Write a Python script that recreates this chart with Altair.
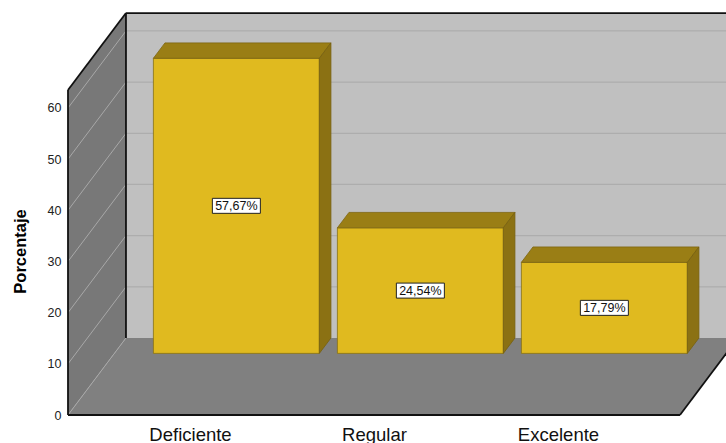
import json
import altair as alt
import pandas as pd

# ---------------- data ----------------
categories = ["Deficiente", "Regular", "Excelente"]
values = [57.67, 24.54, 17.79]
y_ticks = [0, 10, 20, 30, 40, 50, 60]
value_labels = [f"{v:.2f}%".replace(".", ",") for v in values]

# ---------------- 3D geometry (in data units) ----------------
DX = 0.315        # depth offset along x (category units)
DY = 15.05        # depth offset along y (percent units)
BAR_PLANE = 0.8   # depth fraction of the bar front faces
BAR_DEPTH = 0.2   # depth fraction occupied by bars
HALF = 0.451      # half bar width
WALL_TOP = 63.5   # top of the walls (percent)
X_LEFT = 1 - 1.663
X_RIGHT = 1 + 1.663
XMIN, XMAX = X_LEFT, X_LEFT + 658 / 184
YMIN, YMAX = 0, 81.1

FONT = "Liberation Sans"
XS = alt.Scale(domain=[XMIN, XMAX], nice=False, zero=False)
YS = alt.Scale(domain=[YMIN, YMAX], nice=False, zero=False)

XA = alt.Axis(values=[0, 1, 2],
              labelExpr=json.dumps(categories) + "[datum.value]",
              title=None, domain=False, ticks=False, grid=False,
              labelFont=FONT, labelFontSize=18.5, labelColor="#111111",
              labelPadding=10, labelFlush=False, labelOverlap=False)
YA = alt.Axis(values=y_ticks, title="Porcentaje", domain=False, ticks=False,
              grid=False, labelFont=FONT, labelFontSize=12.5,
              labelColor="#222222", labelPadding=7, labelFlush=False,
              titleFont=FONT, titleFontSize=16.5, titleFontWeight="bold",
              titleColor="#000000", titleX=-43, titleY=251,
              titleAngle=270, titleAlign="center", titleBaseline="alphabetic")


def X(f, **kw):
    return alt.X(f, type="quantitative", scale=XS, axis=XA, **kw)


def Y(f, **kw):
    return alt.Y(f, type="quantitative", scale=YS, axis=YA, **kw)


# back wall
back = pd.DataFrame({"x": [X_LEFT + DX], "x2": [X_RIGHT + DX], "y": [DY], "y2": [WALL_TOP + DY]})
back_l = alt.Chart(back).mark_rect(color="#c0c0c0").encode(
    x=X("x"), x2="x2", y=Y("y"), y2="y2")

# left wall (vertical edges)
lw = pd.DataFrame({"x": [X_LEFT, X_LEFT + DX], "y": [WALL_TOP, WALL_TOP + DY], "y2": [0, DY]})
lw_l = alt.Chart(lw).mark_area(color="#787878", opacity=1).encode(
    x=X("x"), y=Y("y"), y2="y2")

# floor (horizontal edges)
fl = pd.DataFrame({"y": [0, DY], "x": [X_LEFT, X_LEFT + DX], "x2": [X_RIGHT, X_RIGHT + DX]})
fl_l = alt.Chart(fl).mark_area(color="#808080", orient="horizontal", opacity=1).encode(
    y=Y("y"), x=X("x"), x2="x2")

# back-wall gridlines
bg = pd.DataFrame({"v": y_ticks[1:]})
bg["y"] = bg["v"] + DY
bg["x"] = X_LEFT + DX
bg["x2"] = X_RIGHT + DX
bg_l = alt.Chart(bg).mark_rule(color="#adadad", strokeWidth=1.2).encode(
    x=X("x"), x2="x2", y=Y("y"))

# left-wall diagonal gridlines
dg = pd.DataFrame({"y": y_ticks})
dg["y2"] = dg["y"] + DY
dg["x"] = X_LEFT
dg["x2"] = X_LEFT + DX
dg_l = alt.Chart(dg).mark_rule(color="#a8a8a8", strokeWidth=1).encode(
    x=X("x"), x2="x2", y=Y("y"), y2="y2")

# black edges
edges = pd.DataFrame({
    "x": [X_LEFT, X_LEFT, X_LEFT + DX, X_LEFT + DX, X_LEFT, X_RIGHT],
    "x2": [X_LEFT, X_LEFT + DX, X_LEFT + DX, X_RIGHT + DX, X_RIGHT, X_RIGHT + DX],
    "y": [0, WALL_TOP, DY, WALL_TOP + DY, 0, 0],
    "y2": [WALL_TOP, WALL_TOP + DY, WALL_TOP + DY, WALL_TOP + DY, 0, DY],
})
ed_l = alt.Chart(edges).mark_rule(color="#111111", strokeWidth=1.8).encode(
    x=X("x"), x2="x2", y=Y("y"), y2="y2")

# bars
base_y = BAR_PLANE * DY
off_x = BAR_PLANE * DX
bd_x = BAR_DEPTH * DX
bd_y = BAR_DEPTH * DY
bars = pd.DataFrame({"cat": categories, "val": values, "lab": value_labels})
bars["i"] = range(len(categories))
bars["xl"] = bars["i"] + off_x - HALF
bars["xr"] = bars["i"] + off_x + HALF
bars["xc"] = bars["i"] + off_x
bars["yb"] = base_y
bars["yt"] = base_y + bars["val"]
bars["ym"] = base_y + bars["val"] / 2

front_l = alt.Chart(bars).mark_rect(color="#e0ba1f", stroke="#857014", strokeWidth=0.8).encode(
    x=X("xl"), x2="xr", y=Y("yb"), y2="yt")

# top faces
top_rows = []
for _, r in bars.iterrows():
    top_rows.append({"cat": r["cat"], "y": r["yt"], "x": r["xl"], "x2": r["xr"]})
    top_rows.append({"cat": r["cat"], "y": r["yt"] + bd_y, "x": r["xl"] + bd_x, "x2": r["xr"] + bd_x})
top_l = alt.Chart(pd.DataFrame(top_rows)).mark_area(
    color="#9a7e15", orient="horizontal", stroke="#7d6610", strokeWidth=0.8, opacity=1
).encode(y=Y("y"), x=X("x"), x2="x2", detail="cat:N")

# right faces
side_rows = []
for _, r in bars.iterrows():
    side_rows.append({"cat": r["cat"], "x": r["xr"], "y": r["yt"], "y2": r["yb"]})
    side_rows.append({"cat": r["cat"], "x": r["xr"] + bd_x, "y": r["yt"] + bd_y, "y2": r["yb"] + bd_y})
side_l = alt.Chart(pd.DataFrame(side_rows)).mark_area(
    color="#8b7113", stroke="#776110", strokeWidth=0.8, opacity=1
).encode(x=X("x"), y=Y("y"), y2="y2", detail="cat:N")

# value label boxes and text
box_l = alt.Chart(bars).mark_rect(width=48, height=15, fill="white", stroke="#222222",
                                  strokeWidth=1).encode(x=X("xc"), y=Y("ym"))
txt_l = alt.Chart(bars).mark_text(font=FONT, fontSize=12.5, color="#111111",
                                  align="center", baseline="middle", dy=0.5).encode(
    x=X("xc"), y=Y("ym"), text="lab:N")

chart = alt.layer(
    back_l, lw_l, fl_l, bg_l, dg_l, ed_l, front_l, top_l, side_l, box_l, txt_l
).properties(
    width=658, height=415,
    padding={"left": 68, "top": 0, "right": 0, "bottom": 28},
    autosize=alt.AutoSizeParams(type="none"),
    background="white",
).configure_view(stroke=None)

chart.save("out.html", embed_options={"renderer": "svg", "actions": False})
